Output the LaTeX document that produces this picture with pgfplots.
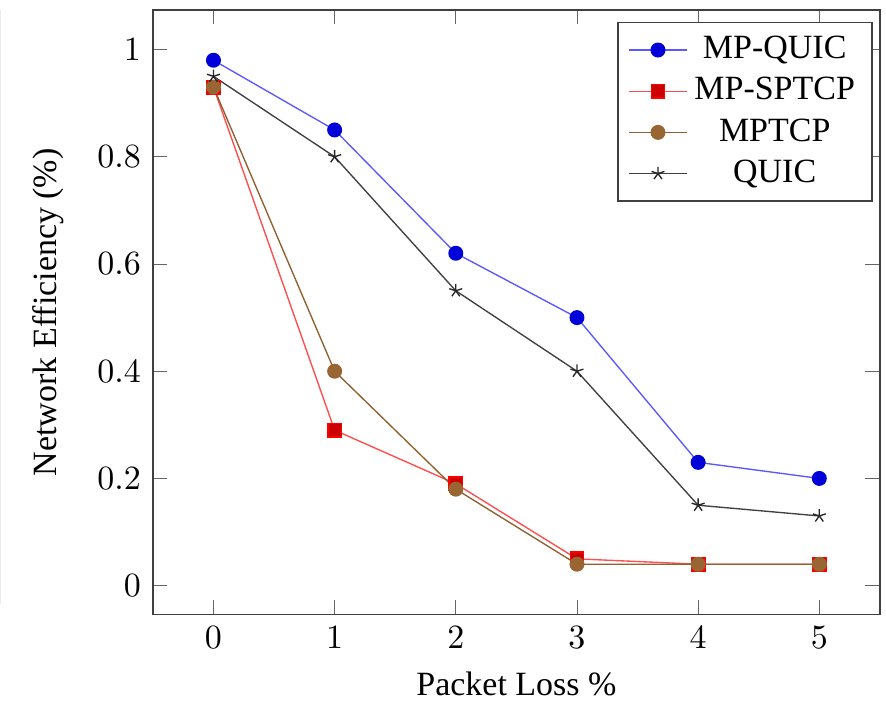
\documentclass[border=0pt]{standalone}
\usepackage{fontspec}
\setmainfont{Liberation Serif}
\usepackage{pgfplots}
\pgfplotsset{compat=1.18}
\usetikzlibrary{calc}
\begin{document}
\begin{tikzpicture}
\begin{axis}[
  scale only axis,
  width=214pt, height=178pt,
  axis line style={black!75},
  tick style={black!60},
  xlabel={Packet Loss \%},
  ylabel={Network Efficiency (\%)},
  ylabel shift=3pt,
  xtick={0,1,2,3,4,5},
  ytick={0,0.2,0.4,0.6,0.8,1},
  legend style={at={(0.99,0.98)}, anchor=north east, cells={anchor=center}, draw=black!75},
]
\addplot[color=blue!65, mark=*, mark options={fill=blue!85!black, draw=blue!85!black}] coordinates {(0,0.98) (1,0.85) (2,0.62) (3,0.50) (4,0.23) (5,0.20)};
\addlegendentry{MP-QUIC}
\addplot[color=red!70, mark=square*, mark options={fill=red!80!black, draw=red}] coordinates {(0,0.93) (1,0.29) (2,0.19) (3,0.05) (4,0.04) (5,0.04)};
\addlegendentry{MP-SPTCP}
\addplot[color=brown!75!black, mark=*, mark options={fill=brown!80!black, draw=brown!80!black}] coordinates {(0,0.93) (1,0.40) (2,0.18) (3,0.04) (4,0.04) (5,0.04)};
\addlegendentry{MPTCP}
\addplot[color=black!75, mark=star, mark options={draw=black!85}] coordinates {(0,0.95) (1,0.80) (2,0.55) (3,0.40) (4,0.15) (5,0.13)};
\addlegendentry{QUIC}
\end{axis}
\path ($(current axis.south west)+(-45pt,-28.2pt)$) rectangle ($(current axis.north east)+(1.8pt,2.9pt)$);
\draw[black!8, line width=0.4pt] ($(current axis.south west)+(-44.8pt,3pt)$) -- ($(current axis.north west)+(-44.8pt,0pt)$);
\end{tikzpicture}
\end{document}
